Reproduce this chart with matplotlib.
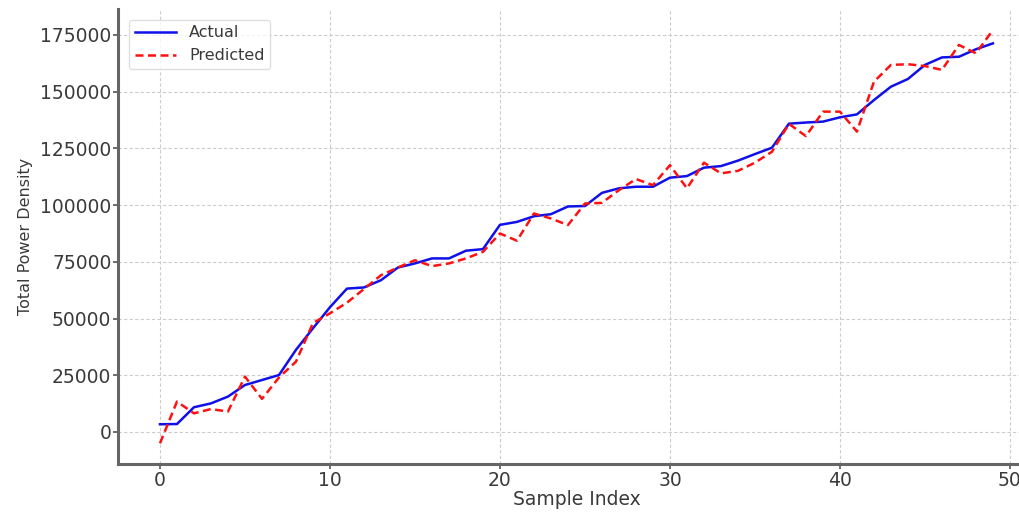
import matplotlib

matplotlib.use("Agg")
from matplotlib import pyplot as plt

# Values
sample_index = list(range(50))
actual = [
    3400, 3500, 10900, 12600, 15600, 20700, 22900, 25100, 36200, 45700,
    55000, 63200, 63700, 66900, 72500, 74300, 76500, 76500, 79900, 80600,
    91300, 92600, 95100, 96000, 99400, 99600, 105400, 107400, 108100, 108100,
    112100, 112800, 116500, 117200, 119600, 122500, 125300, 135900, 136400, 136800,
    138700, 140000, 146300, 152200, 155600, 161800, 165100, 165400, 168700, 171300,
]
predicted = [
    -5000, 13400, 8200, 10100, 9000, 24400, 14600, 24000, 31000, 48000,
    52300, 57000, 63000, 69100, 72500, 75700, 73100, 74300, 76500, 79400,
    87500, 84300, 96300, 94100, 91200, 100700, 101000, 106600, 111500, 108800,
    117600, 107400, 118700, 114000, 115100, 118700, 123500, 135800, 130400, 141200,
    141200, 132400, 154400, 161800, 162100, 161300, 159600, 170600, 166900, 177200,
]

fig = plt.figure(figsize=(10.20, 5.14), dpi=100)
# the reference is a crop: the axes run a little past the right edge
ax = fig.add_axes([0.116, 0.0973, 0.8983, 0.8846])

ax.plot(sample_index, actual, color="#1010e8", linewidth=1.8, label="Actual")
ax.plot(sample_index, predicted, color="#ff1010", linewidth=1.8,
        linestyle=(0, (3.2, 1.8)), label="Predicted")

ax.set_xlabel("Sample Index", fontsize=13.5, color="#3a3a3a", labelpad=0)
ax.set_ylabel("Total Power Density", fontsize=11.5, color="#3a3a3a", labelpad=5)

ax.set_xticks([0, 10, 20, 30, 40, 50])
ax.set_yticks([0, 25000, 50000, 75000, 100000, 125000, 150000, 175000])
ax.tick_params(axis="both", labelsize=13.5, labelcolor="#3a3a3a", color="#555555",
               length=3.5, width=1.2, direction="out", pad=1.5)

ax.grid(True, color="#cccccc", linestyle=(0, (3, 2)), linewidth=0.8)
ax.set_axisbelow(True)

for side in ("top", "right"):
    ax.spines[side].set_visible(False)
for side in ("left", "bottom"):
    ax.spines[side].set_color("#666666")
    ax.spines[side].set_linewidth(2.2)

leg = ax.legend(loc="upper left", fontsize=11.5, frameon=True, fancybox=True,
                borderpad=0.35, handlelength=2.6, bbox_to_anchor=(0.003, 0.995))
leg.get_frame().set_edgecolor("#d8d8d8")
for text in leg.get_texts():
    text.set_color("#3a3a3a")

fig.savefig("out.png", dpi=100)
